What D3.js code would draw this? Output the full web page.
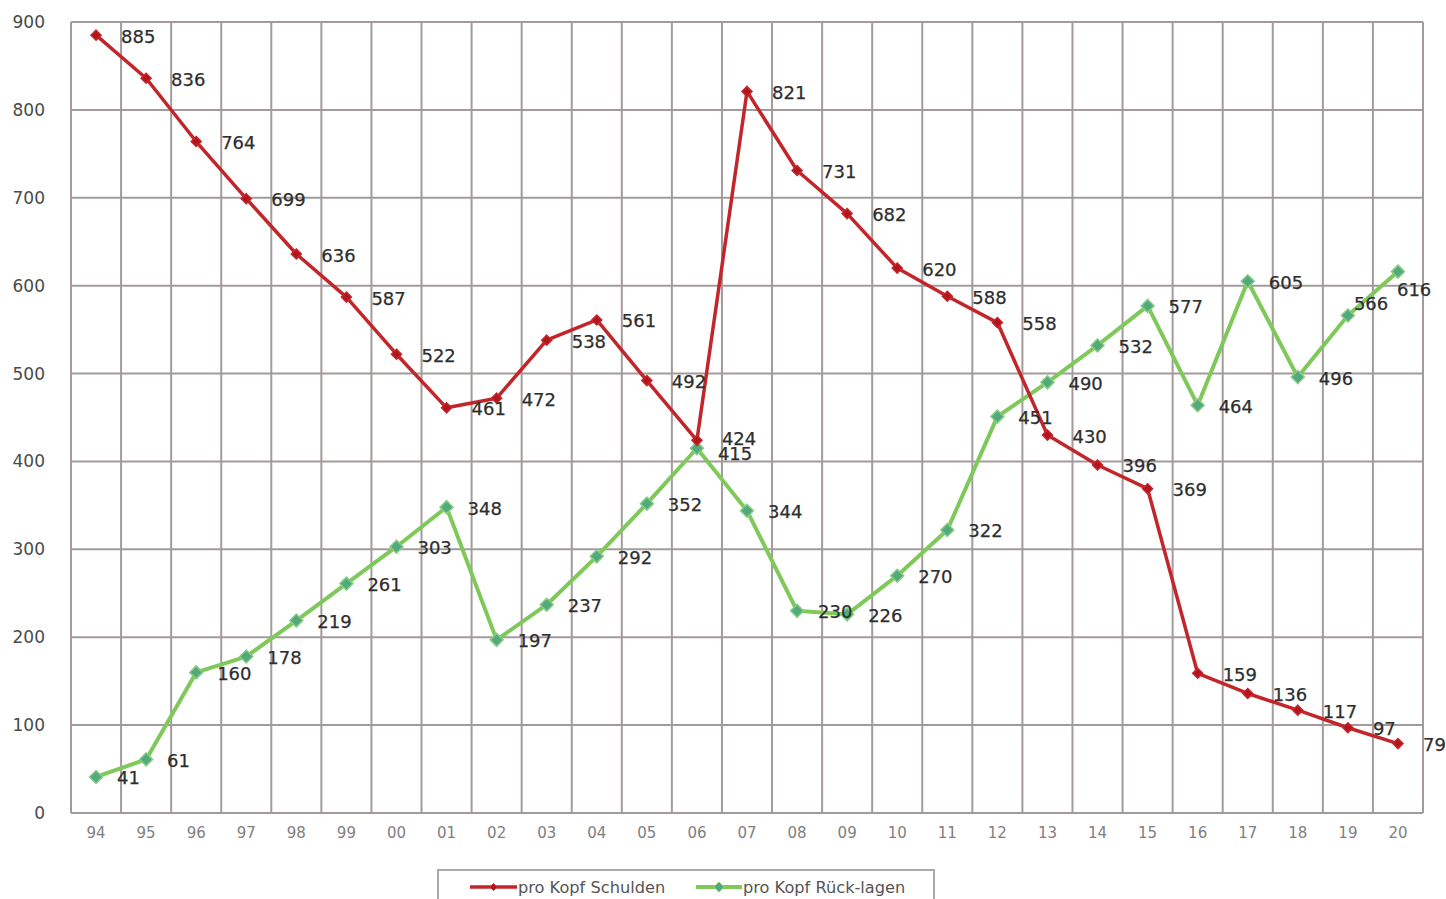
<!DOCTYPE html>
<html><head><meta charset="utf-8">
<script src="https://cdn.jsdelivr.net/npm/d3@7"></script>
<style>body{margin:0;background:#fff;overflow:hidden} svg{display:block}</style>
</head><body><svg id="c" width="1446" height="899"></svg>
<script>
const years = ["94","95","96","97","98","99","00","01","02","03","04","05","06","07","08","09","10","11","12","13","14","15","16","17","18","19","20"];
const schulden = [885,836,764,699,636,587,522,461,472,538,561,492,424,821,731,682,620,588,558,430,396,369,159,136,117,97,79];
const ruecklagen = [41,61,160,178,219,261,303,348,197,237,292,352,415,344,230,226,270,322,451,490,532,577,464,605,496,566,616];
const yTicks = [0,100,200,300,400,500,600,700,800,900];
const seriesNames = ["pro Kopf Schulden","pro Kopf Rück-lagen"];

const svg = d3.select("#c");
const L = 71, R = 1423, T = 22, B = 813;
const x = d3.scaleBand().domain(years).range([L, R]);
const y = d3.scaleLinear().domain([0, 900]).range([B, T]);
const cx = d => x(d) + x.bandwidth() / 2;
const gridCol = "#a39b9b";
const FONT = "DejaVu Sans, Verdana, sans-serif";

// grid
const g = svg.append("g");
g.selectAll("line.h").data(yTicks).join("line")
  .attr("x1", L).attr("x2", R).attr("y1", d => y(d)).attr("y2", d => y(d))
  .attr("stroke", gridCol).attr("stroke-width", 2);
g.selectAll("line.v").data(years.map(d => x(d)).concat([R])).join("line")
  .attr("x1", d => d).attr("x2", d => d).attr("y1", T).attr("y2", B)
  .attr("stroke", gridCol).attr("stroke-width", 2);

// axes
const ya = svg.append("g").attr("transform", `translate(${L},0)`)
  .call(d3.axisLeft(y).tickValues(yTicks).tickSize(0).tickPadding(26));
ya.select(".domain").remove();
ya.selectAll("text").attr("font-family", FONT).attr("font-size", 17).attr("fill", "#4a4a4a");
const xa = svg.append("g").attr("transform", `translate(0,${B})`)
  .call(d3.axisBottom(x).tickSize(0).tickPadding(14));
xa.select(".domain").remove();
xa.selectAll("text").attr("font-family", FONT).attr("font-size", 15).attr("fill", "#808080");

// series
const series = [
  {name: seriesNames[0], values: schulden, line: "#c2262b", mfill: "#b3151c", mstroke: "#c2262b", ms: 5, lw: 3.5, off: 25},
  {name: seriesNames[1], values: ruecklagen, line: "#7fc95a", mfill: "#52a97c", mstroke: "#86cc84", ms: 6.5, lw: 4, off: 21}
];
const line = d3.line().x((d, i) => cx(years[i])).y(d => y(d));
const diamond = (s) => `M0,${-s}L${s},0L0,${s}L${-s},0Z`;

[series[1], series[0]].forEach(s => {
  svg.append("path").attr("d", line(s.values)).attr("fill", "none")
    .attr("stroke", s.line).attr("stroke-width", s.lw).attr("stroke-linejoin", "round");
  svg.append("g").selectAll("path").data(s.values).join("path")
    .attr("transform", (d, i) => `translate(${cx(years[i])},${y(d)})`)
    .attr("d", diamond(s.ms)).attr("fill", s.mfill).attr("stroke", s.mstroke).attr("stroke-width", 1.5);
});

// data labels (a few labels were moved by the original chart to avoid collisions / the edge)
const nudge = {"0:12": [25, -3], "1:12": [21, 4], "1:25": [6, -13], "1:26": [-1, 17]};
series.forEach((s, si) => {
  svg.append("g").selectAll("text").data(s.values).join("text")
    .attr("x", (d, i) => cx(years[i]) + (nudge[si + ":" + i] ? nudge[si + ":" + i][0] : s.off))
    .attr("y", (d, i) => y(d) + 1 + (nudge[si + ":" + i] ? nudge[si + ":" + i][1] : 0))
    .attr("dy", "0.36em")
    .attr("font-family", FONT).attr("font-size", 18).attr("fill", "#2e2e2e")
    .attr("stroke", "#2e2e2e").attr("stroke-width", 0.25)
    .text(d => d);
});

// legend
const lg = svg.append("g");
lg.append("rect").attr("x", 438).attr("y", 870).attr("width", 496).attr("height", 40)
  .attr("fill", "#fff").attr("stroke", "#aaa").attr("stroke-width", 2);
const legendPos = [{x0: 470, x1: 517}, {x0: 696, x1: 742}];
series.forEach((s, i) => {
  const p = legendPos[i];
  lg.append("line").attr("x1", p.x0).attr("x2", p.x1).attr("y1", 887).attr("y2", 887)
    .attr("stroke", s.line).attr("stroke-width", s.lw);
  lg.append("path").attr("transform", `translate(${(p.x0 + p.x1) / 2},887)`)
    .attr("d", diamond(s.ms - 1.5)).attr("fill", s.mfill).attr("stroke", s.mstroke).attr("stroke-width", 1);
  lg.append("text").attr("x", p.x1 + 1).attr("y", 887).attr("dy", "0.36em")
    .attr("font-family", FONT).attr("font-size", 16.2).attr("fill", "#555").text(s.name);
});
</script>
</body></html>
